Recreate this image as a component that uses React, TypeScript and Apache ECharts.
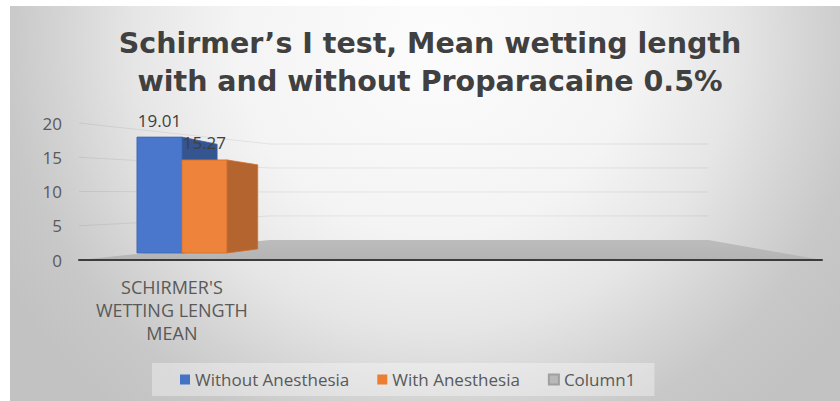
import React, { useEffect, useRef } from "react";
import * as echarts from "echarts";

// ---- data ----
const categories = ["SCHIRMER'S\nWETTING LENGTH\nMEAN", "", "", ""];
const seriesNames = ["Without Anesthesia", "With Anesthesia", "Column1"];
const withoutAnesthesia: (number | null)[] = [19.01, null, null, null];
const withAnesthesia: (number | null)[] = [15.27, null, null, null];
const column1: (number | null)[] = [null, null, null, null];
const yTickValues = [0, 5, 10, 15, 20];
const titleLines = ["Schirmer\u2019s I test, Mean wetting length", "with and without Proparacaine 0.5%"];

// ---- layout / style constants (3D look) ----
const FONT = "'Open Sans', 'Noto Sans', sans-serif";
const TITLE_FONT = "'DejaVu Sans', 'Open Sans', sans-serif";
const VP_XF = 0.627; // vanishing point x as fraction of grid width
const VP_DY = 49; // vanishing point above the base line
const FLOOR_T = 0.41;
const BAR_DEPTH = 0.097;
const BAR_LIFT = 7;
const BAR_HSCALE = 0.89;
const WALL_SCALE = 0.7;

const toPairs = (arr: (number | null)[]) =>
  arr.map((v, i) => (v == null ? null : [i, v])).filter((d) => d !== null) as number[][];

function barRenderer(offsetFrac: number, widthFrac: number, front: string, side: string, edge: string) {
  return (params: any, api: any) => {
    const cat = api.value(0);
    const v = api.value(1);
    const band = api.size([1, 0])[0];
    const base = api.coord([cat, 0]);
    const topPt = api.coord([cat, v]);
    const cs = params.coordSys;
    const vp = [cs.x + cs.width * VP_XF, base[1] - VP_DY];
    const bottom = base[1] - BAR_LIFT;
    const top = bottom - (base[1] - topPt[1]) * BAR_HSCALE;
    const x1 = base[0] + offsetFrac * band;
    const x2 = x1 + widthFrac * band;
    const proj = (x: number, y: number) => [x + BAR_DEPTH * (vp[0] - x), y + BAR_DEPTH * (vp[1] - y)];
    const tr = proj(x2, top);
    const br = proj(x2, bottom);
    return {
      type: "group",
      children: [
        {
          type: "polygon",
          shape: { points: [[x2, top], tr, br, [x2, bottom]] },
          style: { fill: side, stroke: edge, lineWidth: 0.8 },
        },
        {
          type: "rect",
          shape: { x: x1, y: top, width: x2 - x1, height: bottom - top },
          style: { fill: front, stroke: edge, lineWidth: 0.8 },
        },
        {
          type: "text",
          style: {
            text: v.toFixed(2),
            x: (x1 + x2) / 2,
            y: top - 17,
            align: "center",
            verticalAlign: "middle",
            fontSize: 17,
            fontFamily: FONT,
            fill: "#404040",
          },
        },
      ],
    };
  };
}

function floorRenderer(params: any, api: any) {
  const cs = params.coordSys;
  const y0 = api.coord([0, 0])[1];
  const vp = [cs.x + cs.width * VP_XF, y0 - VP_DY];
  const proj = (p: number[], t: number) => [p[0] + t * (vp[0] - p[0]), p[1] + t * (vp[1] - p[1])];
  const fl = [cs.x, y0];
  const fr = [cs.x + cs.width, y0];
  const bl = proj(fl, FLOOR_T);
  const br = proj(fr, FLOOR_T);
  const children: any[] = [
    {
      type: "polygon",
      shape: { points: [fl, fr, br, bl] },
      style: {
        fill: new echarts.graphic.LinearGradient(0, 0, 0, 1, [
          { offset: 0, color: "#bcbcbc" },
          { offset: 1, color: "#b4b4b4" },
        ]),
      },
    },
  ];
  yTickValues.forEach((v) => {
    if (v === 0) return;
    const yv = api.coord([0, v])[1];
    const by = bl[1] - (y0 - yv) * WALL_SCALE;
    children.push({
      type: "polyline",
      shape: { points: [[cs.x, yv], [bl[0], by], [br[0], by]] },
      style: { stroke: "rgba(0,0,0,0.07)", lineWidth: 1, fill: "none" },
    });
  });
  return { type: "group", children };
}

export default function App() {
  const ref = useRef<HTMLDivElement>(null);
  useEffect(() => {
    if (!ref.current) return;
    const chart = echarts.init(ref.current, null, { renderer: "svg" });
    chart.setOption({
      animation: false,
      backgroundColor: "transparent",
      title: {
        text: titleLines.join("\n"),
        left: 430,
        textAlign: "center",
        top: 24,
        padding: 0,
        textStyle: {
          fontFamily: TITLE_FONT,
          fontWeight: "bold",
          fontSize: 28.5,
          lineHeight: 38,
          color: "#404040",
        },
      },
      legend: {
        data: seriesNames,
        left: 152,
        top: 363,
        padding: [8, 19, 8, 28],
        itemGap: 28,
        itemWidth: 10,
        itemHeight: 10,
        icon: "rect",
        backgroundColor: "rgba(255,255,255,0.35)",
        textStyle: { fontFamily: FONT, fontSize: 17, color: "#595959" },
      },
      grid: { left: 79, right: 18, top: 123, bottom: 141 },
      xAxis: {
        type: "category",
        data: categories,
        z: 10,
        axisLine: { show: true, lineStyle: { color: "#3c3c3c", width: 2 } },
        axisTick: { show: false },
        axisLabel: {
          interval: 0,
          fontFamily: FONT,
          fontSize: 18,
          lineHeight: 23,
          color: "#595959",
          margin: 15,
        },
        splitLine: { show: false },
      },
      yAxis: {
        type: "value",
        min: yTickValues[0],
        max: yTickValues[yTickValues.length - 1],
        interval: yTickValues[1] - yTickValues[0],
        axisLine: { show: false },
        axisTick: { show: false },
        splitLine: { show: false },
        axisLabel: { fontFamily: FONT, fontSize: 17, color: "#595959", margin: 17 },
      },
      series: [
        {
          type: "custom",
          name: "floor",
          z: 1,
          silent: true,
          data: [[0, 0]],
          renderItem: floorRenderer,
        },
        {
          type: "custom",
          name: seriesNames[0],
          z: 3,
          itemStyle: { color: "#4472C4" },
          data: toPairs(withoutAnesthesia),
          renderItem: barRenderer(-0.188, 0.242, "#4a77cc", "#34558f", "#3a62ad"),
        },
        {
          type: "custom",
          name: seriesNames[1],
          z: 4,
          itemStyle: { color: "#ED7D31" },
          data: toPairs(withAnesthesia),
          renderItem: barRenderer(0.054, 0.242, "#ee833b", "#b3642f", "#d06d2c"),
        },
        {
          type: "custom",
          name: seriesNames[2],
          z: 5,
          itemStyle: { color: "#b9b9b9", borderColor: "#a0a0a0", borderWidth: 1 },
          data: toPairs(column1),
          renderItem: barRenderer(0.296, 0.242, "#b9b9b9", "#8c8c8c", "#a0a0a0"),
        },
      ],
    });
    return () => chart.dispose();
  }, []);
  return (
    <div style={{ position: "absolute", left: 0, top: 0, width: 840, height: 401, background: "#fff", overflow: "hidden" }}>
      <div
        style={{
          position: "absolute",
          left: 10,
          top: 6,
          right: 0,
          bottom: 0,
          background:
            "radial-gradient(ellipse 500px 480px at 425px 35px, #fcfcfc 0%, #f4f4f4 40%, #e6e6e6 60%, #d4d4d4 75%, #c8c8c8 86%, #c2c2c2 100%)",
        }}
      />
      <div ref={ref} style={{ position: "absolute", left: 0, top: 0, width: 840, height: 401 }} />
    </div>
  );
}
